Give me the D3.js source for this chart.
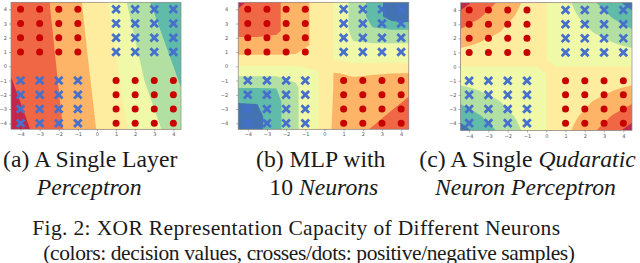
<!DOCTYPE html>
<html>
<head>
<meta charset="utf-8">
<script src="https://cdn.jsdelivr.net/npm/d3@7"></script>
<style>
  body { margin: 0; background: #fff; }
  svg { display: block; }
  .tick text { font-family: "DejaVu Sans", sans-serif; }
  .cap { font-family: "Liberation Serif", "Times New Roman", serif; fill: #1a1a1a; }
</style>
</head>
<body>
<svg width="640" height="263"></svg>
<script>

var ticks = [-4, -3, -2, -1, 0, 1, 2, 3, 4]
var sampleVals = [1, 2, 3, 4]
var crossQuadrants = [[1, 1], [-1, -1]]   // positive samples
var dotQuadrants = [[-1, 1], [1, -1]]     // negative samples
var levels = [0.5, 1.5, 2.5, 3.5, 4.5, 5.5, 6.5]

// where the decision values were read (x left->right, y top->bottom)
var gridX = [-4.5, -3.5, -2.5, -1.5, -0.5, 0.5, 1.5, 2.5, 3.5, 4.5]
var gridY = [4.5, 3.5, 2.5, 1.5, 0.5, -0.5, -1.5, -2.5, -3.5, -4.5]
var gridYa = [4.5, -4.5]

// decision values, in colour-band units (0 = dark red ... 7 = blue)
var valuesA = [
  [1.32, 1.41, 1.49, 2.06, 2.68, 3.43, 4.45, 5.34, 5.89, 6.37],
  [-0.09, 0.49, 1.08, 1.66, 2.23, 2.81, 3.40, 3.98, 4.56, 5.14]
]
var valuesB = [
  [0.29, 0.82, 1.36, 2.00, 2.70, 3.55, 4.80, 5.85, 7.03, 7.60],
  [0.76, 0.82, 1.36, 2.00, 2.70, 3.55, 4.80, 5.85, 7.03, 7.30],
  [1.23, 1.23, 1.36, 2.00, 2.70, 3.55, 4.80, 5.39, 5.39, 5.39],
  [1.84, 1.84, 1.84, 2.00, 2.70, 3.55, 4.39, 4.39, 4.39, 4.39],
  [2.79, 2.79, 2.79, 2.79, 2.79, 3.55, 3.85, 3.85, 3.85, 3.85],
  [4.25, 4.25, 4.25, 4.25, 3.77, 2.45, 2.60, 2.55, 2.50, 2.45],
  [5.48, 5.48, 5.48, 4.63, 3.77, 2.45, 2.20, 2.11, 1.86, 1.61],
  [6.45, 6.45, 5.80, 4.63, 3.77, 2.40, 2.14, 1.89, 1.64, 1.39],
  [7.20, 6.80, 5.80, 4.63, 3.77, 2.35, 1.91, 1.66, 1.41, 1.16],
  [7.60, 6.80, 5.80, 4.63, 3.77, 2.30, 1.69, 1.44, 1.19, 0.94]
]
var valuesC = [
  [0.06, 0.82, 1.59, 2.35, 3.12, 3.88, 4.65, 5.41, 6.18, 6.94],
  [0.82, 1.42, 2.01, 2.61, 3.20, 3.80, 4.39, 4.99, 5.58, 6.18],
  [1.59, 2.01, 2.44, 2.86, 3.29, 3.71, 4.14, 4.56, 4.99, 5.41],
  [2.35, 2.61, 2.86, 3.12, 3.37, 3.63, 3.88, 4.14, 4.39, 4.65],
  [3.12, 3.20, 3.29, 3.37, 3.46, 3.54, 3.63, 3.71, 3.80, 3.88],
  [3.88, 3.80, 3.71, 3.63, 3.54, 3.46, 3.37, 3.29, 3.20, 3.12],
  [4.65, 4.39, 4.14, 3.88, 3.63, 3.37, 3.12, 2.86, 2.61, 2.35],
  [5.41, 4.99, 4.56, 4.14, 3.71, 3.29, 2.86, 2.44, 2.01, 1.59],
  [6.18, 5.58, 4.99, 4.39, 3.80, 3.20, 2.61, 2.01, 1.42, 0.82],
  [6.94, 6.18, 5.41, 4.65, 3.88, 3.12, 2.35, 1.59, 0.82, 0.06]
]

var subCaptions = [
  [["(a) A Single Layer", false]],
  [["Perceptron", true]],
  [["(b) MLP with", false]],
  [["10 ", false], ["Neurons", true]],
  [["(c) A Single ", false], ["Qudaratic", true]],
  [["Neuron Perceptron", true]]
]
var figCaption = [
  "Fig. 2: XOR Representation Capacity of Different Neurons",
  "(colors: decision values, crosses/dots: positive/negative samples)"
]

var svg = d3.select("svg")

// matplotlib style Spectral, one colour per band
var spectral = d3.scaleLinear()
  .domain(d3.range(11).map(function(i) { return i / 10 }))
  .range(d3.schemeSpectral[11])
var bandColor = function(k) { return spectral((k + 0.5) / 8) }

var panels = [
  {values: valuesA, ys: gridYa, left: 11, right: 181, top: 2.3, bottom: 129.3,
   xDomain: [-4.5, 4.4], yDomain: [-4.42, 4.49], labelPad: 2},
  {values: valuesB, ys: gridY, left: 238.2, right: 408.8, top: 2.3, bottom: 129.3,
   xDomain: [-4.5, 4.4], yDomain: [-4.42, 4.49], labelPad: 8},
  {values: valuesC, ys: gridY, left: 460.5, right: 632, top: 2.7, bottom: 130.5,
   xDomain: [-4.45, 4.45], yDomain: [-4.52, 4.52], labelPad: 2}
]

var makeSamples = function(quads) {
  var pts = []
  quads.forEach(function(q) {
    sampleVals.forEach(function(a) {
      sampleVals.forEach(function(b) {
        pts.push([q[0] * a, q[1] * b])
      })
    })
  })
  return pts
}
var crosses = makeSamples(crossQuadrants)
var dots = makeSamples(dotQuadrants)

panels.forEach(function(p, pi) {
  var x = d3.scaleLinear().domain(p.xDomain).range([p.left, p.right])
  var y = d3.scaleLinear().domain(p.yDomain).range([p.bottom, p.top])

  // grid coords -> pixels (d3.contours puts sample i at i + 0.5)
  var nx = gridX.length, ny = p.ys.length
  var gx = d3.scaleLinear().domain([0.5, nx - 0.5]).range([x(gridX[0]), x(gridX[nx - 1])])
  var gy = d3.scaleLinear().domain([0.5, ny - 0.5]).range([y(p.ys[0]), y(p.ys[ny - 1])])
  var path = d3.geoPath(d3.geoTransform({
    point: function(a, b) { this.stream.point(gx(a), gy(b)) }
  }))
  var bands = d3.contours().size([nx, ny]).thresholds(levels)(p.values.flat())

  var g = svg.append("g")
  var clipId = "clip" + pi
  g.append("clipPath").attr("id", clipId)
    .append("rect")
    .attr("x", p.left).attr("y", p.top)
    .attr("width", p.right - p.left).attr("height", p.bottom - p.top)

  var field = g.append("g").attr("clip-path", "url(#" + clipId + ")")
  field.append("rect")
    .attr("x", p.left).attr("y", p.top)
    .attr("width", p.right - p.left).attr("height", p.bottom - p.top)
    .attr("fill", bandColor(0))
  field.selectAll("path.band")
    .data(bands)
    .enter()
    .append("path")
    .attr("class", "band")
    .attr("d", path)
    .attr("fill", function(d, i) { return bandColor(i + 1) })

  // negative samples
  field.selectAll("circle")
    .data(dots)
    .enter()
    .append("circle")
    .attr("cx", function(d) { return x(d[0]) })
    .attr("cy", function(d) { return y(d[1]) })
    .attr("r", 3.5)
    .attr("fill", "#c80000")

  // positive samples
  field.selectAll("path.cross")
    .data(crosses)
    .enter()
    .append("path")
    .attr("class", "cross")
    .attr("transform", function(d) { return "translate(" + x(d[0]) + "," + y(d[1]) + ")" })
    .attr("d", "M-3.8,-3.8L3.8,3.8M-3.8,3.8L3.8,-3.8")
    .attr("stroke", "#4670cc")
    .attr("stroke-width", 2.8)
    .attr("fill", "none")

  g.append("rect")
    .attr("x", p.left).attr("y", p.top)
    .attr("width", p.right - p.left).attr("height", p.bottom - p.top)
    .attr("fill", "none")
    .attr("stroke", "#8a8a8a")
    .attr("stroke-width", 0.7)

  var xAxis = g.append("g")
    .attr("transform", "translate(0," + p.bottom + ")")
    .call(d3.axisBottom(x).tickValues(ticks).tickSize(2).tickPadding(1.5))
  var yAxis = g.append("g")
    .attr("transform", "translate(" + p.left + ",0)")
    .call(d3.axisLeft(y).tickValues(ticks).tickSize(2).tickPadding(p.labelPad))

  ;[xAxis, yAxis].forEach(function(ax) {
    ax.select(".domain").remove()
    ax.selectAll(".tick line").attr("stroke", "#666").attr("stroke-width", 0.5)
    ax.selectAll(".tick text").attr("font-size", 5).attr("fill", "#555")
  })
})

// sub-figure captions
var capPos = [[3, 167], [36.7, 195], [256, 167], [269.3, 195], [419.3, 167], [435, 195]]
subCaptions.forEach(function(parts, i) {
  var t = svg.append("text")
    .attr("class", "cap")
    .attr("x", capPos[i][0])
    .attr("y", capPos[i][1])
    .attr("font-size", 23.7)
  parts.forEach(function(part) {
    t.append("tspan")
      .attr("font-style", part[1] ? "italic" : "normal")
      .text(part[0])
  })
})

var figPos = [[32.3, 235, 527.7], [43.3, 259.5, 531.7]]
figCaption.forEach(function(line, i) {
  svg.append("text")
    .attr("class", "cap")
    .attr("x", figPos[i][0])
    .attr("y", figPos[i][1])
    .attr("font-size", 21.5)
    .attr("textLength", figPos[i][2])
    .attr("lengthAdjust", "spacing")
    .text(line)
})

</script>
</body>
</html>
